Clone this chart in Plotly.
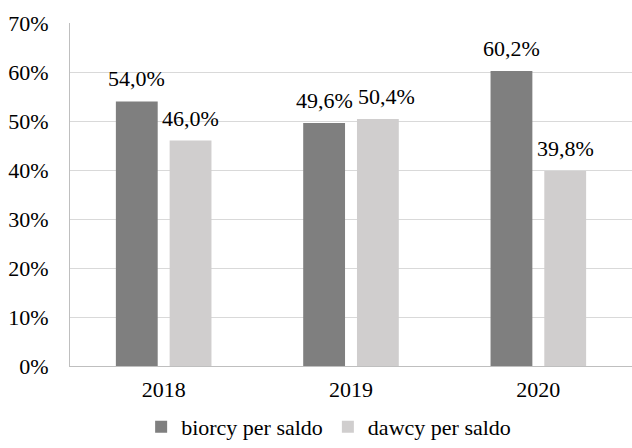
import plotly.graph_objects as go

years = ["2018", "2019", "2020"]
biorcy = [54.0, 49.6, 60.2]
dawcy = [46.0, 50.4, 39.8]
series_names = ["biorcy per saldo", "dawcy per saldo"]
colors = ["#7f7f7f", "#d0cece"]

FONT = "Liberation Serif"
FS = 22

fig = go.Figure()
for name, vals, col in zip(series_names, [biorcy, dawcy], colors):
    fig.add_trace(go.Bar(x=years, y=vals, name=name, marker_color=col,
                         marker_line_width=0, hoverinfo="skip"))

def fmt(v):
    return f"{v:.1f}%".replace(".", ",")

# small horizontal nudge to keep neighbouring labels from touching (series, category)
nudge = {(1, 1): 8}

for s, (shift, vals) in enumerate([(-27, biorcy), (27, dawcy)]):
    for i, v in enumerate(vals):
        fig.add_annotation(x=i, y=v, xref="x", yref="y", text=fmt(v),
                           showarrow=False, xshift=shift + nudge.get((s, i), 0),
                           yanchor="bottom", yshift=8,
                           font=dict(family=FONT, size=FS, color="#000"))

fig.update_layout(
    width=632, height=448,
    margin=dict(l=70, r=0, t=23, b=82, autoexpand=False),
    paper_bgcolor="white", plot_bgcolor="white",
    barmode="group", bargap=0.426, bargroupgap=0.222,
    font=dict(family=FONT, size=FS, color="#000"),
    showlegend=True,
    legend=dict(orientation="h", xref="container", yref="container",
                x=0.52, xanchor="center", y=-0.012, yanchor="bottom",
                font=dict(family=FONT, size=FS), itemclick=False,
                bgcolor="rgba(0,0,0,0)"),
    xaxis=dict(type="category", range=[-0.5, 2.5], showline=True,
               linecolor="#bfbfbf", linewidth=1, automargin=False,
               ticks="", ticklabelstandoff=4, showgrid=False, fixedrange=True),
    yaxis=dict(range=[0, 70], dtick=10, ticksuffix="%", showgrid=True,
               gridcolor="#d9d9d9", gridwidth=1, showline=True, automargin=False,
               linecolor="#bfbfbf", linewidth=1, ticks="", zeroline=False,
               ticklabelstandoff=16, fixedrange=True),
)

fig.write_html("out.html", config={"displayModeBar": False},
               post_script="document.body.style.margin='0';document.body.style.overflow='hidden';")
